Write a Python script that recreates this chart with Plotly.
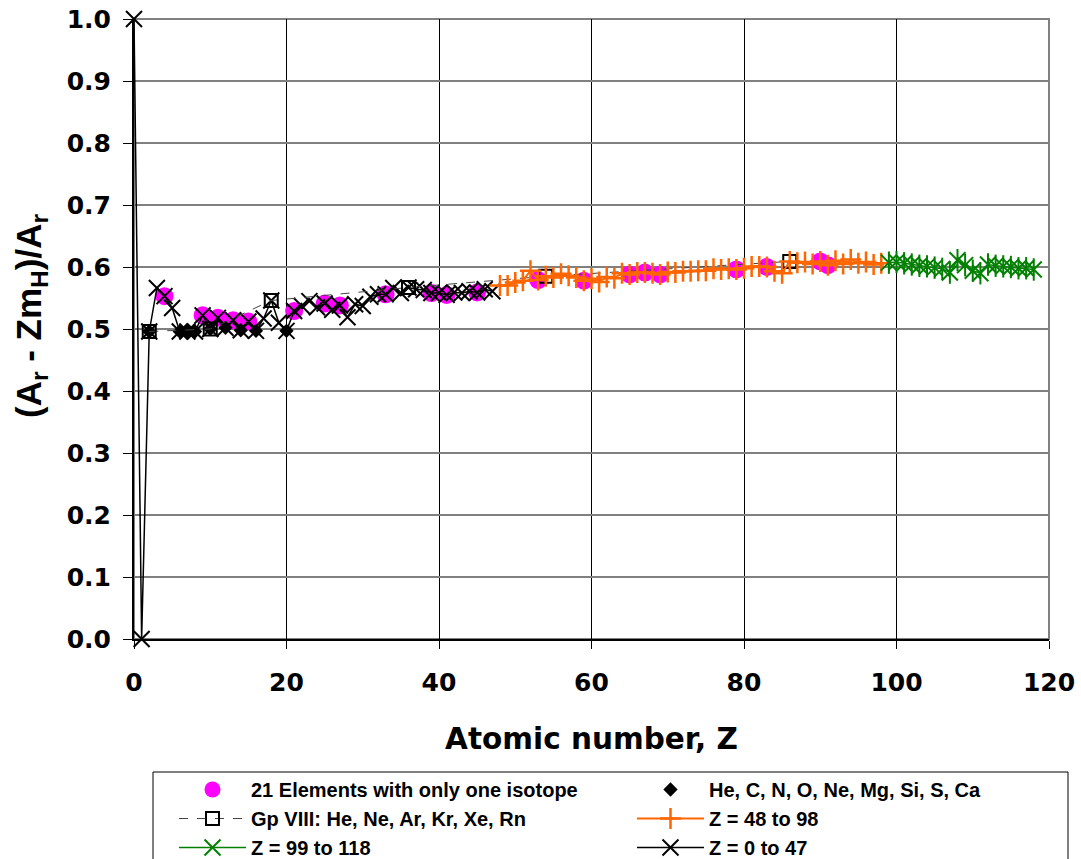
import plotly.graph_objects as go

# ---- data ----
z_black = list(range(0, 48))
y_black = [1.000, 0.000, 0.496, 0.566, 0.553, 0.534, 0.496, 0.496, 0.496, 0.522,
           0.500, 0.518, 0.502, 0.514, 0.498, 0.512, 0.497, 0.517, 0.546, 0.510,
           0.497, 0.529, 0.537, 0.545, 0.535, 0.541, 0.531, 0.538, 0.519, 0.540,
           0.537, 0.552, 0.556, 0.556, 0.566, 0.558, 0.567, 0.564, 0.563, 0.558,
           0.558, 0.555, 0.559, 0.558, 0.561, 0.559, 0.564, 0.561]

z_orange = list(range(48, 99))
y_orange = [0.570, 0.570, 0.575, 0.578, 0.594, 0.579, 0.585, 0.583, 0.589, 0.586,
            0.583, 0.578, 0.581, 0.576, 0.584, 0.582, 0.590, 0.588, 0.591, 0.591,
            0.590, 0.588, 0.592, 0.591, 0.593, 0.593, 0.594, 0.594, 0.597, 0.596,
            0.597, 0.596, 0.598, 0.601, 0.601, 0.600, 0.593, 0.590, 0.609, 0.607,
            0.608, 0.605, 0.609, 0.603, 0.610, 0.605, 0.612, 0.606, 0.608, 0.604,
            0.606]

z_green = list(range(99, 119))
y_green = [0.607, 0.608, 0.606, 0.604, 0.602, 0.601, 0.599, 0.597, 0.591, 0.611,
           0.603, 0.594, 0.590, 0.604, 0.602, 0.601, 0.600, 0.598, 0.598, 0.596]

z_single = [4, 9, 11, 13, 15, 21, 25, 27, 33, 39, 41, 45, 53, 59, 65, 67, 69, 79, 83, 90, 91]
y_single = [0.553, 0.522, 0.518, 0.514, 0.512, 0.529, 0.541, 0.538, 0.556, 0.558, 0.555,
            0.559, 0.579, 0.578, 0.588, 0.591, 0.588, 0.596, 0.600, 0.609, 0.603]

z_even = [2, 6, 7, 8, 10, 12, 14, 16, 20]
y_even = [0.496, 0.496, 0.496, 0.496, 0.500, 0.502, 0.498, 0.497, 0.497]

z_noble = [2, 10, 18, 36, 54, 86]
y_noble = [0.496, 0.500, 0.546, 0.567, 0.585, 0.609]

x_ticks = [0, 20, 40, 60, 80, 100, 120]
y_ticks = [0.0, 0.1, 0.2, 0.3, 0.4, 0.5, 0.6, 0.7, 0.8, 0.9, 1.0]

WIDE = "DejaVu Sans, sans-serif"
ARIAL = "Liberation Sans, Arial, sans-serif"

L, R, T, B = 134, 32, 19, 220
W, H = 1081, 859
pw, ph = W - L - R, H - T - B


def px_x(p):
    return (p - L) / pw


def px_y(p):
    return (H - B - p) / ph


fig = go.Figure()

fig.add_trace(go.Scatter(
    x=z_single, y=y_single, mode="markers", name="21 Elements with only one isotope",
    marker=dict(symbol="circle", size=18, color="#FF00FF"), legendrank=1, cliponaxis=False))

fig.add_trace(go.Scatter(
    x=z_even, y=y_even, mode="markers", name="He, C, N, O, Ne, Mg, Si, S, Ca",
    marker=dict(symbol="diamond", size=11, color="black"), legendrank=2, cliponaxis=False))

fig.add_trace(go.Scatter(
    x=z_black, y=y_black, mode="lines+markers", name="Z = 0 to 47",
    line=dict(color="black", width=1.5),
    marker=dict(symbol="x-thin-open", size=16, color="black", line=dict(width=2, color="black")),
    legendrank=6, cliponaxis=False))

fig.add_trace(go.Scatter(
    x=z_noble, y=y_noble, mode="lines+markers", name="Gp VIII: He, Ne, Ar, Kr, Xe, Rn",
    line=dict(color="#444444", width=1, dash="dash"),
    marker=dict(symbol="square-open", size=13, color="black", line=dict(width=2, color="black")),
    legendrank=3, cliponaxis=False))

fig.add_trace(go.Scatter(
    x=z_orange, y=y_orange, mode="lines+markers", name="Z = 48 to 98",
    line=dict(color="#FF6600", width=2),
    marker=dict(symbol="cross-thin-open", size=15, color="#FF6600", line=dict(width=2.5, color="#FF6600")),
    legendrank=4, cliponaxis=False))

fig.add_trace(go.Scatter(
    x=z_green, y=y_green, mode="lines+markers", name="Z = 99 to 118",
    line=dict(color="#008000", width=1.5),
    marker=dict(symbol="x-thin-open", size=16, color="#008000", line=dict(width=2, color="#008000")),
    legendrank=5, cliponaxis=False))

fig.add_trace(go.Scatter(
    x=z_green, y=y_green, mode="markers", showlegend=False, hoverinfo="skip",
    marker=dict(symbol="line-ns-open", size=16, color="#008000", line=dict(width=2, color="#008000")),
    cliponaxis=False))

fig.update_layout(
    width=W, height=H,
    margin=dict(l=L, r=R, t=T, b=B, pad=0, autoexpand=False),
    paper_bgcolor="white", plot_bgcolor="white",
    font=dict(family=ARIAL, color="black", weight="bold"),
    xaxis=dict(
        range=[0, 120], tickvals=x_ticks, ticktext=[str(v) for v in x_ticks],
        showgrid=True, gridcolor="black", gridwidth=1,
        showline=True, linecolor="black", linewidth=2,
        ticks="outside", ticklen=8, tickcolor="black", tickwidth=1,
        ticklabelstandoff=12,
        zeroline=False,
        tickfont=dict(family=WIDE, size=25, color="black", weight="bold"),
        title=dict(text="Atomic number, Z", standoff=32,
                   font=dict(family=WIDE, size=29.5, color="black", weight="bold")),
    ),
    yaxis=dict(
        range=[0, 1.0], tickvals=y_ticks, ticktext=[f"{v:.1f}" for v in y_ticks],
        showgrid=True, gridcolor="#808080", gridwidth=2,
        showline=True, linecolor="black", linewidth=2,
        ticks="outside", ticklen=9, tickcolor="black", tickwidth=1,
        ticklabelstandoff=7,
        zeroline=False,
        tickfont=dict(family=WIDE, size=25, color="black", weight="bold"),
    ),
    annotations=[dict(
        text="(A<sub>r</sub> - Zm<sub>H</sub>)/A<sub>r</sub>", textangle=-90,
        xref="paper", yref="paper", x=px_x(31), y=px_y(316),
        xanchor="center", yanchor="middle", showarrow=False,
        font=dict(family=ARIAL, size=35, color="black", weight="bold"))],
    shapes=[
        dict(type="rect", xref="paper", yref="paper", x0=0, x1=1, y0=0, y1=1,
             line=dict(color="#808080", width=2), layer="below"),
        dict(type="rect", xref="paper", yref="paper",
             x0=px_x(153), x1=px_x(1068), y0=px_y(900), y1=px_y(772),
             line=dict(color="black", width=1), fillcolor="rgba(0,0,0,0)", layer="above"),
    ],
    legend=dict(
        orientation="h", x=px_x(174), xanchor="left",
        y=px_y(770), yanchor="top",
        borderwidth=0, bgcolor="rgba(0,0,0,0)",
        font=dict(family=ARIAL, size=20, color="black", weight="bold"),
        entrywidth=376, entrywidthmode="pixels", itemwidth=67,
        traceorder="normal",
    ),
)

fig.write_html("out.html")
